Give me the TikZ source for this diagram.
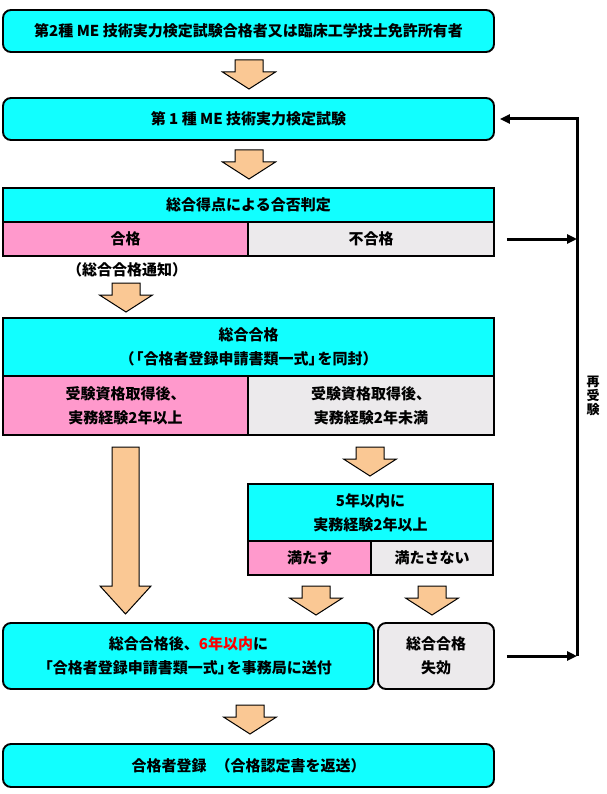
\documentclass[tikz,border=0pt]{standalone}
\usepackage{fontspec}
\setmainfont{Noto Sans CJK JP}
\usetikzlibrary{arrows.meta}
\definecolor{cy}{RGB}{17,255,255}
\definecolor{pk}{RGB}{255,153,204}
\definecolor{gy}{RGB}{236,234,236}
\definecolor{ora}{RGB}{250,200,148}
\begin{document}
\begin{tikzpicture}[x=1pt,y=-1pt,
  every node/.style={font=\fontsize{15}{24}\selectfont\bfseries, inner sep=0pt, align=center},
  rbox/.style={draw=black, line width=1.9pt, rounded corners=8pt, fill=cy},
  cell/.style={draw=black, line width=1.9pt},
  loopline/.style={line width=3pt, -{Triangle[length=10pt,width=9pt]}},
  downarr/.pic={\draw[line width=1pt, fill=ora, line join=miter]
     (-14,0) -- (14,0) -- (14,12) -- (26.5,12) -- (0,29) -- (-26.5,12) -- (-14,12) -- cycle;}
]
\useasboundingbox (0,0) rectangle (606,794);
% box 1
\node[rbox, minimum width=491pt, minimum height=42pt] (b1) at (248.5,31)
  {第2種 ME 技術実力検定試験合格者又は臨床工学技士免許所有者};
\pic at (249,60) {downarr};
% box 2
\node[rbox, minimum width=491pt, minimum height=42pt] (b2) at (248.5,119)
  {第 1 種 ME 技術実力検定試験};
\pic at (249,150) {downarr};
% box 3
\node[cell, fill=cy, minimum width=491pt, minimum height=34pt] (h3) at (248.5,205) {総合得点による合否判定};
\node[cell, fill=pk, minimum width=245pt, minimum height=34pt] (p3) at (125.5,239) {合格};
\node[cell, fill=gy, minimum width=246pt, minimum height=34pt] (f3) at (371,239) {不合格};
\node (note) at (127,270) {（総合合格通知）};
\pic at (126,283) {downarr};
% box 4
\node[cell, fill=cy, minimum width=491pt, minimum height=58pt] (h4) at (248.5,347)
  {総合合格\\（\kern-0.4em「合格者登録申請書類一式」\kern-0.4em を同封）};
\node[cell, fill=pk, minimum width=245pt, minimum height=59pt] (l4) at (125.5,405.5)
  {受験資格取得後、\\実務経験2年以上};
\node[cell, fill=gy, minimum width=246pt, minimum height=59pt] (r4) at (371,405.5)
  {受験資格取得後、\\実務経験2年未満};
% big arrow
\draw[line width=1pt, fill=ora, line join=miter]
  (112,447) -- (139,447) -- (139,586) -- (151,586) -- (125.5,614) -- (100,586) -- (112,586) -- cycle;
\pic at (370,447) {downarr};
% box 5
\node[cell, fill=cy, minimum width=245pt, minimum height=57pt] (h5) at (370.5,512.5)
  {5年以内に\\実務経験2年以上};
\node[cell, fill=pk, minimum width=123pt, minimum height=34pt] (l5) at (309.5,558) {満たす};
\node[cell, fill=gy, minimum width=122pt, minimum height=34pt] (r5) at (432,558) {満たさない};
\pic at (316,586) {downarr};
\pic at (432,586) {downarr};
% box 6, 7
\node[rbox, minimum width=371pt, minimum height=66pt] (b6) at (188.5,656)
  {総合合格後、{\color{red}6年以内}に\\\kern-0.5em「合格者登録申請書類一式」\kern-0.4em を事務局に送付};
\node[rbox, fill=gy, minimum width=116pt, minimum height=66pt] (b7) at (436,656)
  {総合合格\\失効};
\pic at (250,705) {downarr};
% box 8
\node[rbox, minimum width=491pt, minimum height=43pt] (b8) at (248.5,765.5)
  {合格者登録\hspace{0.6em}（合格認定書を返送）};
% loop
\coordinate (cTop) at (577,119);
\coordinate (cBot) at (577,656);
\draw[loopline, shorten >=5pt] (cBot) -- (cTop) -- (b2.east);
\draw[loopline] ([xshift=12pt]f3.east) -- (f3.east -| cTop);
\draw[loopline] ([xshift=12pt]b7.east) -- (b7.east -| cTop);
\node[font=\fontsize{13}{14}\selectfont\bfseries] (retake) at (593,396) {再\\受\\験};
\end{tikzpicture}
\end{document}
